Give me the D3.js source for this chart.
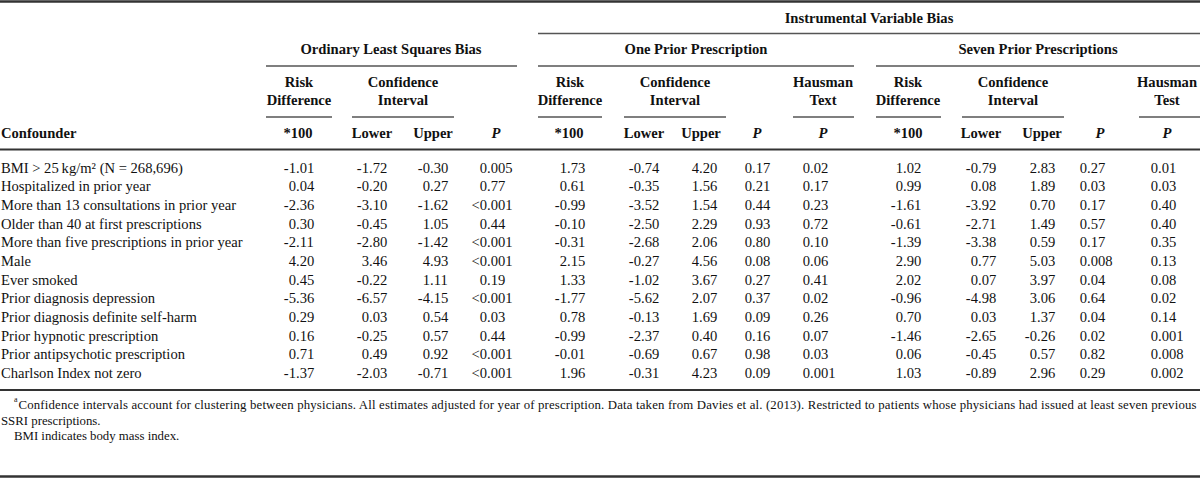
<!DOCTYPE html>
<html>
<head>
<meta charset="utf-8">
<script src="https://cdn.jsdelivr.net/npm/d3@7/dist/d3.min.js"></script>
<style>
  html, body { margin: 0; padding: 0; background: #fff; }
  svg { display: block; }
  text { font-family: "Liberation Serif", "DejaVu Serif", serif; fill: #111; }
</style>
</head>
<body>
<svg id="chart" width="1200" height="479"></svg>
<script>
// ---------------- DATA ----------------
const confounders = [
  "BMI > 25\u2009kg/m\u00B2 (N = 268,696)",
  "Hospitalized in prior year",
  "More than 13 consultations in prior year",
  "Older than 40 at first prescriptions",
  "More than five prescriptions in prior year",
  "Male",
  "Ever smoked",
  "Prior diagnosis depression",
  "Prior diagnosis definite self-harm",
  "Prior hypnotic prescription",
  "Prior antipsychotic prescription",
  "Charlson Index not zero"
];

// Ordinary least squares bias
const olsRiskDiff = [-1.01, 0.04, -2.36, 0.30, -2.11, 4.20, 0.45, -5.36, 0.29, 0.16, 0.71, -1.37];
const olsLower    = [-1.72, -0.20, -3.10, -0.45, -2.80, 3.46, -0.22, -6.57, 0.03, -0.25, 0.49, -2.03];
const olsUpper    = [-0.30, 0.27, -1.62, 1.05, -1.42, 4.93, 1.11, -4.15, 0.54, 0.57, 0.92, -0.71];
const olsP        = ["0.005", "0.77", "<0.001", "0.44", "<0.001", "<0.001", "0.19", "<0.001", "0.03", "0.44", "<0.001", "<0.001"];

// IV: one prior prescription
const oneRiskDiff = [1.73, 0.61, -0.99, -0.10, -0.31, 2.15, 1.33, -1.77, 0.78, -0.99, -0.01, 1.96];
const oneLower    = [-0.74, -0.35, -3.52, -2.50, -2.68, -0.27, -1.02, -5.62, -0.13, -2.37, -0.69, -0.31];
const oneUpper    = [4.20, 1.56, 1.54, 2.29, 2.06, 4.56, 3.67, 2.07, 1.69, 0.40, 0.67, 4.23];
const oneP        = ["0.17", "0.21", "0.44", "0.93", "0.80", "0.08", "0.27", "0.37", "0.09", "0.16", "0.98", "0.09"];
const oneHausman  = ["0.02", "0.17", "0.23", "0.72", "0.10", "0.06", "0.41", "0.02", "0.26", "0.07", "0.03", "0.001"];

// IV: seven prior prescriptions
const sevenRiskDiff = [1.02, 0.99, -1.61, -0.61, -1.39, 2.90, 2.02, -0.96, 0.70, -1.46, 0.06, 1.03];
const sevenLower    = [-0.79, 0.08, -3.92, -2.71, -3.38, 0.77, 0.07, -4.98, 0.03, -2.65, -0.45, -0.89];
const sevenUpper    = [2.83, 1.89, 0.70, 1.49, 0.59, 5.03, 3.97, 3.06, 1.37, -0.26, 0.57, 2.96];
const sevenP        = ["0.27", "0.03", "0.17", "0.57", "0.17", "0.008", "0.04", "0.64", "0.04", "0.02", "0.82", "0.29"];
const sevenHausman  = ["0.01", "0.03", "0.40", "0.40", "0.35", "0.13", "0.08", "0.02", "0.14", "0.001", "0.008", "0.002"];

// Header labels
const topHeader = "Instrumental Variable Bias";
const groupHeaders = ["Ordinary Least Squares Bias", "One Prior Prescription", "Seven Prior Prescriptions"];
const colLabels = ["*100", "Lower", "Upper", "P", "*100", "Lower", "Upper", "P", "P", "*100", "Lower", "Upper", "P", "P"];
const footnotes = [
  "Confidence intervals account for clustering between physicians. All estimates adjusted for year of prescription. Data taken from Davies et al. (2013). Restricted to patients whose physicians had issued at least seven previous",
  "SSRI prescriptions.",
  "BMI indicates body mass index."
];

// ---------------- LAYOUT ----------------
const svg = d3.select("#chart");
const FS = 14.6;     // body
const FH = 14.6;     // bold headers
const FF = 12.8;     // footnotes
const fmtNum = v => d3.format(".2f")(v).replace("\u2212", "-");

// columns: decimal-point x and header center x
const columns = [
  { values: olsRiskDiff.map(fmtNum),   dec: 296,  hx: 298 },
  { values: olsLower.map(fmtNum),      dec: 369,  hx: 372 },
  { values: olsUpper.map(fmtNum),      dec: 430,  hx: 433 },
  { values: olsP,                      dec: 487,  hx: 496 },
  { values: oneRiskDiff.map(fmtNum),   dec: 567,  hx: 569 },
  { values: oneLower.map(fmtNum),      dec: 641,  hx: 644 },
  { values: oneUpper.map(fmtNum),      dec: 699,  hx: 701 },
  { values: oneP,                      dec: 752,  hx: 757 },
  { values: oneHausman,                dec: 810,  hx: 823 },
  { values: sevenRiskDiff.map(fmtNum), dec: 903,  hx: 908 },
  { values: sevenLower.map(fmtNum),    dec: 978,  hx: 981 },
  { values: sevenUpper.map(fmtNum),    dec: 1037, hx: 1042 },
  { values: sevenP,                    dec: 1087, hx: 1100 },
  { values: sevenHausman,              dec: 1158, hx: 1167 }
];

const y = d3.scalePoint().domain(d3.range(confounders.length)).range([168, 373]);
const baselineShift = 4.8;

// measuring helper
const meas = svg.append("text").attr("font-size", FS).attr("x", -1000).attr("y", -1000);
function textWidth(s) { meas.text(s); return meas.node().getComputedTextLength(); }

// ---------------- RULES ----------------
const dark = "#333", mid = "#555";
function hline(x1, x2, yy, w, col) {
  svg.append("line").attr("x1", x1).attr("x2", x2).attr("y1", yy).attr("y2", yy)
    .attr("stroke", col || dark).attr("stroke-width", w);
}
hline(0, 1200, 1.5, 2.5);
hline(538, 1200, 33.5, 1.4, mid);
// group underlines
[[266, 517], [538, 854], [876, 1200]].forEach(([a, b]) => hline(a, b, 66, 1.4, mid));
// sub-header underlines
[[266, 332], [352, 454], [538, 602], [624, 726], [793, 854], [876, 941], [962, 1064], [1139, 1200]]
  .forEach(([a, b]) => hline(a, b, 117, 1.4, mid));
hline(0, 1200, 149.5, 1.8);
hline(0, 1200, 390, 1.8);
hline(0, 1200, 476.5, 2.5);

// ---------------- HEADERS ----------------
function htext(x, yy, s, opts = {}) {
  return svg.append("text").attr("x", x).attr("y", yy)
    .attr("text-anchor", opts.anchor || "middle")
    .attr("font-size", FH).attr("font-weight", "bold")
    .attr("font-style", opts.italic ? "italic" : null)
    .text(s);
}
htext(869, 23, topHeader);
htext(391, 54, groupHeaders[0]);
htext(696, 54, groupHeaders[1]);
htext(1038, 54, groupHeaders[2]);

const sub = [
  { x: 299, a: "Risk", b: "Difference" },
  { x: 403, a: "Confidence", b: "Interval" },
  { x: 570, a: "Risk", b: "Difference" },
  { x: 675, a: "Confidence", b: "Interval" },
  { x: 823, a: "Hausman", b: "Text" },
  { x: 908, a: "Risk", b: "Difference" },
  { x: 1013, a: "Confidence", b: "Interval" },
  { x: 1167, a: "Hausman", b: "Test" }
];
sub.forEach(d => { htext(d.x, 87, d.a); htext(d.x, 105, d.b); });

htext(1, 138, "Confounder", { anchor: "start" });
columns.forEach((c, i) => htext(c.hx, 138, colLabels[i], { italic: colLabels[i] === "P" }));

// ---------------- BODY ----------------
svg.append("g").selectAll("text").data(confounders).join("text")
  .attr("x", 1).attr("y", (d, i) => y(i) + baselineShift)
  .attr("font-size", FS).text(d => d);

columns.forEach(c => {
  svg.append("g").selectAll("text").data(c.values).join("text")
    .attr("font-size", FS)
    .attr("y", (d, i) => y(i) + baselineShift)
    .attr("x", d => c.dec - textWidth(d.slice(0, d.indexOf("."))))
    .text(d => d);
});

// ---------------- FOOTNOTES ----------------
svg.append("text").attr("x", 14).attr("y", 402).attr("font-size", 8).text("a");
svg.append("text").attr("x", 18.5).attr("y", 409).attr("font-size", FF)
  .attr("textLength", 1178).attr("lengthAdjust", "spacing").text(footnotes[0]);
svg.append("text").attr("x", 1).attr("y", 424.5).attr("font-size", FF).text(footnotes[1]);
svg.append("text").attr("x", 14).attr("y", 440).attr("font-size", FF).text(footnotes[2]);

meas.remove();
</script>
</body>
</html>
